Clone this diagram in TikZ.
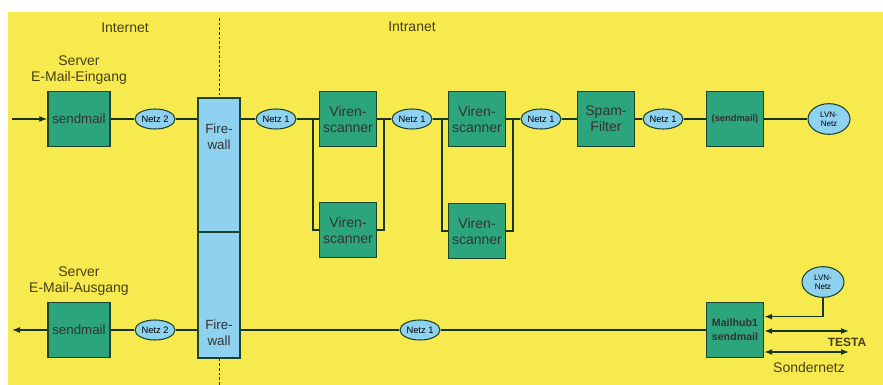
\documentclass[tikz,border=0pt]{standalone}
\usepackage{fontspec}
\setmainfont{Liberation Sans}
\usetikzlibrary{arrows.meta,positioning,shapes.geometric}
\definecolor{bgyellow}{RGB}{247,234,78}
\definecolor{boxgreen}{RGB}{44,164,124}
\definecolor{boxline}{RGB}{28,66,48}
\definecolor{netblue}{RGB}{142,210,240}
\definecolor{lbltext}{RGB}{72,62,22}

\begin{document}
\begin{tikzpicture}[x=0.75pt,y=-0.75pt,
            box/.style={draw=boxline, fill=boxgreen, line width=1.1pt, minimum width=42.75pt,
                 minimum height=41.25pt, inner sep=1pt, align=center, text=black!80,
                 font=\fontsize{10.5}{12}\selectfont},
            net/.style={draw=boxline, fill=netblue, ellipse, line width=0.8pt, minimum width=30pt,
                 minimum height=15pt, inner sep=0pt, align=center, font=\fontsize{7}{8}\selectfont},
            wall/.style={draw=boxline, fill=netblue, line width=1pt, minimum width=31.5pt, inner sep=0pt},
            lbl/.style={align=center, text=lbltext, font=\fontsize{10.5}{12}\selectfont},
            link/.style={draw=boxline!80!black, line width=0.9pt},
            tip/.style={-{Latex[length=6pt,width=4.5pt]}},
            both/.style={{Latex[length=6pt,width=4.5pt]}-{Latex[length=6pt,width=4.5pt]}}
            ]

            % Background
            \fill[bgyellow] (8,12) rectangle (883,385);
            \useasboundingbox (0,0) rectangle (883,385);

            % Zone labels and border
            \node[lbl] (inet) at (125,28) {Internet};
            \node[lbl] (intra) at (412,27) {Intranet};
            \coordinate (dtop) at (219,18);
            \coordinate (dbot) at (219,385);

            % Firewall
            \node[wall, minimum height=100.5pt] (fw1) at (219,165) {};
            \node[wall, minimum height=94.5pt] (fw2) at (219,295) {};
            \node[lbl, text=black!80, font=\fontsize{10}{12}\selectfont] (fwtxt1) at (219,137) {Fire-\\wall};
            \node[lbl, text=black!80, font=\fontsize{10}{12}\selectfont] (fwtxt2) at (219,333) {Fire-\\wall};

            % Nodes, incoming mail
            \coordinate (inpt) at (12,119);
            \node[box, minimum width=46.5pt, font=\fontsize{10}{12}\selectfont] (smin) at (79,119) {sendmail};
            \node[lbl, above=1pt of smin] (smintxt) {Server\\E-Mail-Eingang};
            \node[net] (net2a) at (155,119) {Netz 2};
            \node[net] (net1a) at (276,119) {Netz 1};
            \node[box] (vs1a) at (348,119) {Viren-\\scanner};
            \node[box] (vs1b) at (348,230) {Viren-\\scanner};
            \node[net] (net1b) at (412,119) {Netz 1};
            \node[box] (vs2a) at (477,119) {Viren-\\scanner};
            \node[box] (vs2b) at (477,231) {Viren-\\scanner};
            \node[net] (net1c) at (541,119) {Netz 1};
            \node[box] (spam) at (606,119) {Spam-\\Filter};
            \node[net] (net1d) at (663,119) {Netz 1};
            \node[box, font=\bfseries\fontsize{7}{8}\selectfont] (smint) at (735,119) {(sendmail)};
            \node[net, minimum width=31.5pt, minimum height=23pt, font=\fontsize{6}{7}\selectfont] (lvn1) at (829,119) {LVN-\\Netz};

            % Nodes, outgoing mail
            \coordinate (outpt) at (12,330);
            \node[box, minimum width=46.5pt, font=\fontsize{10}{12}\selectfont] (smout) at (79,330) {sendmail};
            \node[lbl, above=1pt of smout] (smouttxt) {Server\\E-Mail-Ausgang};
            \node[net] (net2b) at (155,330) {Netz 2};
            \node[net] (net1e) at (420,330) {Netz 1};
            \node[box, font=\bfseries\fontsize{8}{10.5}\selectfont] (mhub) at (735,330) {Mailhub1\\sendmail};
            \node[net, minimum width=31.5pt, minimum height=23pt, font=\fontsize{6}{7}\selectfont] (lvn2) at (823,282) {LVN-\\Netz};
            \coordinate (testa) at (849,331);
            \coordinate (sonder) at (849,352);
            \node[lbl, font=\bfseries\fontsize{9}{10}\selectfont] (testatxt) at (847,342) {TESTA};
            \node[lbl] (sondertxt) at (809,367) {Sondernetz};

            % Branch points of the scanner pairs
            \coordinate (b1l) at (313,119);
            \coordinate (b1r) at (384,119);
            \coordinate (b2l) at (442,119);
            \coordinate (b2r) at (513,119);

            % Arrows, incoming mail
            \draw[link, dashed, dash pattern=on 2pt off 1.5pt, line width=0.6pt] (dtop) -- (fw1.north);
            \draw[link, dashed, dash pattern=on 2pt off 1.5pt, line width=0.6pt] (fw2.south) -- (dbot);
            \draw[link, tip] (inpt) -- (smin.west);
            \draw[link] (smin.east) -- (net2a.west);
            \draw[link] (net2a.east) -- (net2a -| fw1.west);
            \draw[link] (net1a -| fw1.east) -- (net1a.west);
            \draw[link] (net1a.east) -- (vs1a.west);
            \draw[link] (b1l) |- (vs1b.west);
            \draw[link] (vs1a.east) -- (net1b.west);
            \draw[link] (b1r) |- (vs1b.east);
            \draw[link] (net1b.east) -- (vs2a.west);
            \draw[link] (b2l) |- (vs2b.west);
            \draw[link] (vs2a.east) -- (net1c.west);
            \draw[link] (b2r) |- (vs2b.east);
            \draw[link] (net1c.east) -- (spam.west);
            \draw[link] (spam.east) -- (net1d.west);
            \draw[link] (net1d.east) -- (smint.west);
            \draw[link] (smint.east) -- (lvn1.west);

            % Arrows, outgoing mail
            \draw[link, tip] (smout.west) -- (outpt);
            \draw[link] (smout.east) -- (net2b.west);
            \draw[link] (net2b.east) -- (net2b -| fw2.west);
            \draw[link] (net1e -| fw2.east) -- (net1e.west);
            \draw[link] (net1e.east) -- (mhub.west);
            \draw[link, tip] (lvn2.south) |- ([yshift=10pt]mhub.east);
            \draw[link, both] (mhub.east |- testa) -- (testa);
            \draw[link, both] (mhub.east |- sonder) -- (sonder);
        \end{tikzpicture}
\end{document}
